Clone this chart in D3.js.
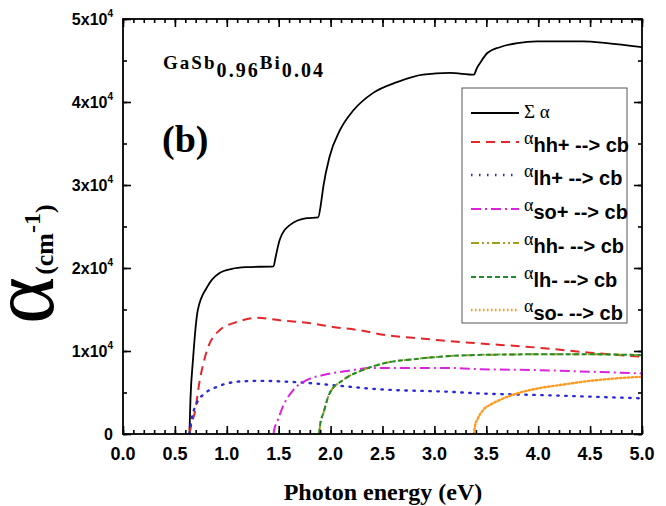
<!DOCTYPE html>
<html><head><meta charset="utf-8">
<script src="https://cdn.jsdelivr.net/npm/d3@7"></script>
<style>body{margin:0;background:#fff}svg{display:block}</style>
</head><body>
<svg id="c" width="666" height="506"></svg>
<script>
// ---- data ----
const sumE = [0.64,0.65,0.674,0.72,0.81,0.93,1.05,1.19,1.45,1.47,1.51,1.61,1.77,1.88,1.91,1.93,1.99,2.09,2.22,2.41,2.64,2.89,3.15,3.38,3.41,3.44,3.51,3.63,3.80,3.99,4.21,4.43,4.66,5.0];
const sumA = [0,4200,8900,14900,17700,19400,19900,20100,20200,21300,23400,25200,26000,26100,28000,29800,33400,36600,39000,41100,42400,43300,43500,43300,44100,44700,45900,46600,47100,47300,47300,47300,47100,46600];
const hhpE = [0.64,0.66,0.69,0.74,0.81,0.93,1.10,1.29,1.51,1.77,2.02,2.28,2.54,2.79,3.05,3.34,4.0,4.5,5.0];
const hhpA = [0,1200,2500,6500,10100,12500,13500,14000,13700,13400,12900,12500,11900,11600,11300,11000,10400,9800,9300];
const lhpE = [0.64,0.66,0.71,0.79,0.91,1.10,1.32,1.58,1.83,2.09,2.35,2.60,2.86,3.12,3.41,4.0,4.5,5.0];
const lhpA = [0,1700,3700,4900,5700,6300,6400,6300,6100,5800,5500,5300,5200,5100,4900,4700,4500,4300];
const sopE = [1.45,1.46,1.48,1.54,1.64,1.77,1.93,2.16,2.41,2.67,2.93,3.18,3.44,4.0,4.5,5.0];
const sopA = [0,700,1300,3300,5300,6500,7100,7600,7950,7950,7950,7950,7800,7700,7500,7300];
const hhmE = [1.89,1.90,1.93,1.99,2.12,2.31,2.54,2.79,3.05,3.34,4.0,4.5,5.0];
const hhmA = [0,1200,2500,4900,6500,7700,8600,9000,9300,9500,9600,9600,9500];
const lhmE = [1.89,1.90,1.93,1.99,2.12,2.31,2.54,2.79,3.05,3.34,4.0,4.5,5.0];
const lhmA = [0,1200,2500,4900,6500,7700,8600,9000,9300,9500,9600,9600,9500];
const somE = [3.38,3.39,3.42,3.47,3.55,3.63,3.80,4.00,4.21,4.50,4.75,5.0];
const somA = [0,900,1900,2900,3600,4100,4900,5500,5900,6400,6700,6900];
const xTicks = [0,0.5,1,1.5,2,2.5,3,3.5,4,4.5,5];
const yTicks = [0,10000,20000,30000,40000,50000];
const yTickLabels = ["0","1x10","2x10","3x10","4x10","5x10"];
const yTickExp = ["","4","4","4","4","4"];
const legendLabels = [["Σ α",""],["hh+"," --> cb"],["lh+"," --> cb"],["so+"," --> cb"],["hh-"," --> cb"],["lh-"," --> cb"],["so-"," --> cb"]];

const series = [
  {e:sumE,a:sumA,color:"#000000",dash:null,w:1.8},
  {e:hhpE,a:hhpA,color:"#e3262a",dash:"9,6",w:2},
  {e:lhpE,a:lhpA,color:"#2b2bd6",dash:"1.5,6.5",w:2.4},
  {e:sopE,a:sopA,color:"#dd22dd",dash:"10,4,2,4",w:2},
  {e:hhmE,a:hhmA,color:"#9e9e1c",dash:"8,3,2,3,2,3",w:2},
  {e:lhmE,a:lhmA,color:"#238c2a",dash:"5,3",w:2},
  {e:somE,a:somA,color:"#ff9a1e",dash:"1.6,2.4",w:2.4}
];

const svg = d3.select("#c");
const L=123,R=642,T=19,B=434;
const x = d3.scaleLinear().domain([0,5]).range([L,R]);
const y = d3.scaleLinear().domain([0,50000]).range([B,T]);

svg.append("defs").append("clipPath").attr("id","clip")
  .append("rect").attr("x",L).attr("y",T).attr("width",R-L).attr("height",B-T);

// curves
const line = d3.line().curve(d3.curveMonotoneX);
const g = svg.append("g").attr("clip-path","url(#clip)");
series.forEach(s=>{
  const pts = s.e.map((e,i)=>[x(e),y(s.a[i])]);
  const p = g.append("path").attr("d",line(pts)).attr("fill","none")
    .attr("stroke",s.color).attr("stroke-width",s.w).attr("stroke-linecap", s.dash && s.dash.startsWith("1.")? "round":"butt");
  if(s.dash) p.attr("stroke-dasharray",s.dash);
});

// axes (ticks inward)
const minorX = d3.range(0,5.0001,0.1).map(v=>+v.toFixed(1));
const minorY = d3.range(0,50001,5000);
function axis(gen, scale, major, minor, tr){
  const ga = svg.append("g").attr("transform",tr);
  ga.call(gen(scale).tickValues(minor).tickSize(-4).tickFormat(""));
  const gm = svg.append("g").attr("transform",tr);
  gm.call(gen(scale).tickValues(major).tickSize(-8).tickFormat(""));
  [ga,gm].forEach(z=>{z.selectAll("path").remove();z.selectAll("line").attr("stroke","#000").attr("stroke-width",1.6);});
}
axis(d3.axisBottom,x,xTicks,minorX,`translate(0,${B})`);
axis(d3.axisTop,x,xTicks,minorX,`translate(0,${T})`);
axis(d3.axisLeft,y,yTicks,minorY,`translate(${L},0)`);
axis(d3.axisRight,y,yTicks,minorY,`translate(${R},0)`);
svg.append("rect").attr("x",L).attr("y",T).attr("width",R-L).attr("height",B-T)
  .attr("fill","none").attr("stroke","#000").attr("stroke-width",1.8);

// x tick labels
svg.append("g").selectAll("text").data(xTicks).join("text")
  .attr("x",d=>x(d)).attr("y",B+26).attr("text-anchor","middle")
  .attr("font-family","Liberation Sans, Arial, sans-serif").attr("font-weight","bold").attr("font-size",18)
  .text(d=>d.toFixed(1));
// y tick labels
const yl = svg.append("g").selectAll("text").data(yTicks).join("text")
  .attr("x",113).attr("y",d=>y(d)+6).attr("text-anchor","end")
  .attr("font-family","Liberation Sans, Arial, sans-serif").attr("font-weight","bold").attr("font-size",16);
yl.each(function(d,i){
  const t=d3.select(this);
  t.append("tspan").text(yTickLabels[i]);
  if(yTickExp[i]) t.append("tspan").attr("dy",-8).attr("font-size",10).text(yTickExp[i]);
});

// axis titles
svg.append("text").attr("x",383).attr("y",500).attr("text-anchor","middle")
  .attr("font-family","Liberation Serif, Times New Roman, serif").attr("font-weight","bold").attr("font-size",24)
  .text("Photon energy (eV)");
const yt = svg.append("text").attr("transform","translate(53,324) rotate(-90)")
  .attr("font-family","Liberation Serif, Times New Roman, serif");
yt.append("tspan").attr("font-size",90).text("α");
yt.append("tspan").attr("font-size",26).attr("font-weight","bold").attr("dx",2).text("(cm");
yt.append("tspan").attr("font-size",24).attr("font-weight","bold").attr("dy",-13).text("-1");
yt.append("tspan").attr("font-size",26).attr("font-weight","bold").attr("dy",13).text(")");

// annotations
const an = svg.append("text").attr("x",163).attr("y",69)
  .attr("font-family","Liberation Serif, Times New Roman, serif").attr("font-weight","bold").attr("font-size",19)
  .attr("textLength",160).attr("lengthAdjust","spacing");
an.append("tspan").text("GaSb");
an.append("tspan").attr("dy",8).attr("font-size",20).text("0.96");
an.append("tspan").attr("dy",-8).text("Bi");
an.append("tspan").attr("dy",8).attr("font-size",20).text("0.04");
svg.append("text").attr("x",162).attr("y",152)
  .attr("font-family","Liberation Serif, Times New Roman, serif").attr("font-weight","bold").attr("font-size",38)
  .text("(b)");

// legend
const lg = svg.append("g");
lg.append("rect").attr("x",462).attr("y",88).attr("width",165).attr("height",235)
  .attr("fill","#fff").attr("stroke","#555").attr("stroke-width",1);
const rowY = [113,142,175,209,243,277,310];
series.forEach((s,i)=>{
  const ly = rowY[i];
  const p = lg.append("line").attr("x1",471).attr("x2",519).attr("y1",ly).attr("y2",ly)
    .attr("stroke",s.color).attr("stroke-width",s.w);
  if(s.dash) p.attr("stroke-dasharray",s.dash);
  const t = lg.append("text").attr("x",524).attr("y",ly+5);
  if(i===0){
    t.attr("font-family","Liberation Serif, Times New Roman, serif").attr("font-size",19).text(legendLabels[i][0]);
  } else {
    t.append("tspan").attr("font-family","Liberation Serif, Times New Roman, serif").attr("font-size",18).attr("dy",-3).text("α");
    t.append("tspan").attr("font-family","Liberation Sans, Arial, sans-serif").attr("font-weight","bold").attr("font-size",20).attr("dy",8).text(legendLabels[i][0]);
    t.append("tspan").attr("font-family","Liberation Sans, Arial, sans-serif").attr("font-weight","bold").attr("font-size",20).text(legendLabels[i][1]);
  }
});
</script>
</body></html>
